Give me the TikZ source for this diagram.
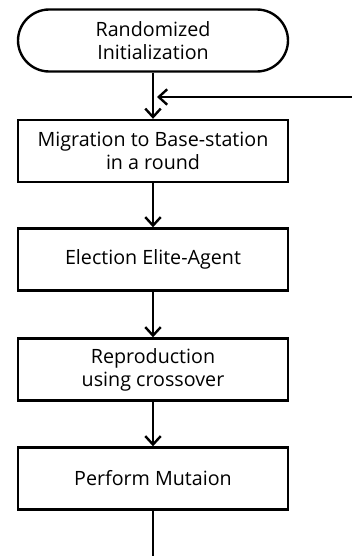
\documentclass[tikz,border=0pt]{standalone}
\usepackage{fontspec}
\setmainfont{Open Sans}
\usetikzlibrary{arrows.meta}

\tikzset{
  stepbox/.style={draw, line width=1.7pt, minimum width=270*0.025cm, minimum height=62*0.025cm,
    align=center, inner sep=0pt, font=\fontsize{14}{16.5}\selectfont},
  termbox/.style={stepbox, rounded corners=0.78cm},
  arr/.style={-{Straight Barb[length=6pt,width=11pt,line width=1.7pt]}, line width=1.7pt}
}

\begin{document}
\begin{tikzpicture}[x=0.025cm,y=-0.025cm]
\useasboundingbox (0,0) rectangle (352,556);
% steps
\node[termbox] (init) at (153,40.5) {Randomized\\Initialization};
\node[stepbox] (migr) at (153,151) {Migration to Base-station\\in a round};
\node[stepbox] (elect) at (153,259.5) {Election Elite-Agent};
\node[stepbox] (repro) at (153,369.5) {Reproduction\\using crossover};
\node[stepbox] (mutat) at (153,478.5) {Perform Mutaion};
% connectors
\draw[arr] (init) -- (migr);
\draw[arr] (migr) -- (elect);
\draw[arr] (elect) -- (repro);
\draw[arr] (repro) -- (mutat);
\coordinate (loopin) at (352,97);
\coordinate (loopend) at (157,97);
\draw[arr] (loopin) -- (loopend);
\coordinate (out) at (153,556);
\draw[line width=1.7pt] (mutat) -- (out);
\end{tikzpicture}
\end{document}
